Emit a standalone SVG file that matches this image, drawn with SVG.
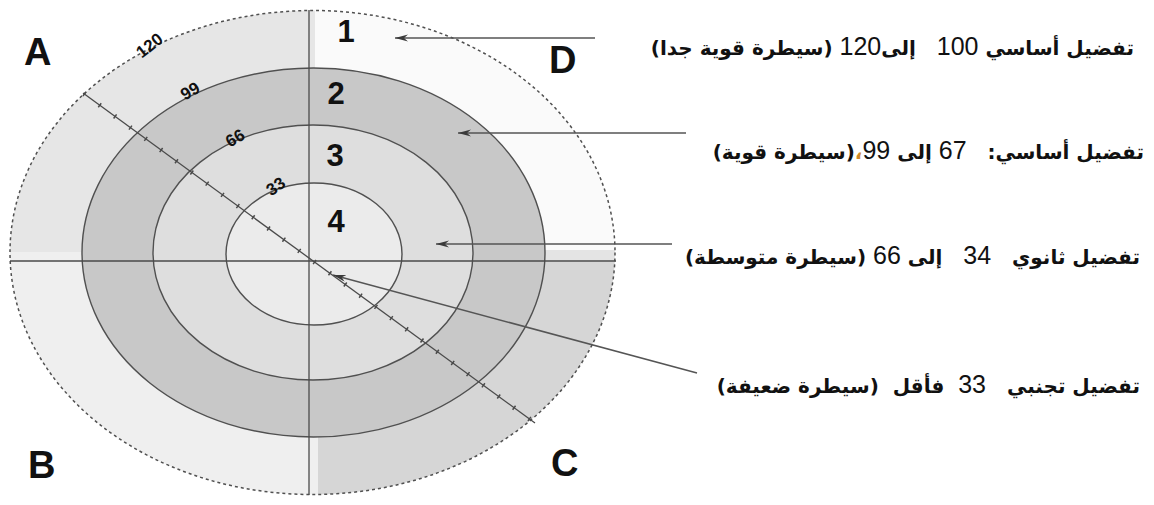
<svg xmlns="http://www.w3.org/2000/svg" width="1154" height="505" viewBox="0 0 1154 505">
  <defs>
    <clipPath id="outerClip">
      <ellipse cx="312.5" cy="252.5" rx="302.5" ry="242"/>
    </clipPath>
    <marker id="dart" markerUnits="userSpaceOnUse" markerWidth="14" markerHeight="8" refX="13" refY="3.5" orient="auto">
      <path d="M0,0 L13,3.5 L0,7 L4,3.5 z" fill="#3a3a3a"/>
    </marker>
  </defs>
  <style>
    .ring { stroke: #505050; stroke-width: 1.4; }
    .axis { stroke: #4a4a4a; stroke-width: 1.3; fill: none; }
    .arrow { stroke: #555555; stroke-width: 1.5; fill: none; marker-end: url(#dart); }
    .num { font-family: "Liberation Sans", Arial, sans-serif; font-weight: bold; font-size: 31px; fill: #111; text-anchor: middle; }
    .corner { font-family: "Liberation Sans", Arial, sans-serif; font-weight: bold; font-size: 38px; fill: #111; }
    .scale { font-family: "Liberation Sans", Arial, sans-serif; font-weight: bold; font-size: 17px; fill: #111; text-anchor: middle; }
    .legend { font-family: "DejaVu Sans", "Noto Sans", sans-serif; font-weight: bold; font-size: 20px; fill: #111; }
    .legend .n { font-family: "Liberation Sans", Arial, sans-serif; font-weight: normal; font-size: 25px; }
  </style>

  <rect width="1154" height="505" fill="#ffffff"/>

  <g id="quadrants" clip-path="url(#outerClip)">
    <rect x="0" y="0" width="315" height="252" fill="#e6e6e6"/>
    <rect x="315" y="0" width="310" height="250" fill="#fafafa"/>
    <rect x="0" y="252" width="318" height="253" fill="#efefef"/>
    <rect x="315" y="250" width="310" height="12" fill="#e4e4e4"/>
    <rect x="318" y="262" width="310" height="243" fill="#d6d6d6"/>
  </g>

  <g id="rings">
    <ellipse id="ring-99" class="ring" cx="313.5" cy="252.5" rx="231.5" ry="184.5" fill="#c8c8c8"/>
    <ellipse id="ring-66" class="ring" cx="313" cy="252.5" rx="160" ry="127.5" fill="#dedede"/>
    <ellipse id="ring-33" class="ring" cx="314" cy="254" rx="88" ry="71" fill="#ebebeb"/>
    <ellipse id="ring-120" cx="312.5" cy="252.5" rx="302.5" ry="242" fill="none" stroke="#505050" stroke-width="1.5" stroke-dasharray="3 3"/>
  </g>

  <g id="axes">
    <line class="axis" x1="309" y1="10" x2="309" y2="495"/>
    <line class="axis" x1="10" y1="261" x2="616" y2="261"/>
    <line class="axis" x1="83" y1="93" x2="535" y2="423"/>
    <line x1="83" y1="93" x2="535" y2="423" stroke="#4a4a4a" stroke-width="5" stroke-dasharray="1.5 17.5" stroke-dashoffset="-20"/>
  </g>

  <g id="scale-labels">
    <text class="scale" transform="translate(153,50) rotate(-38)">120</text>
    <text class="scale" transform="translate(193,96) rotate(-30)">99</text>
    <text class="scale" transform="translate(238,143) rotate(-30)">66</text>
    <text class="scale" transform="translate(279,191) rotate(-35)">33</text>
  </g>

  <g id="ring-numbers">
    <text class="num" x="346" y="42">1</text>
    <text class="num" x="336" y="104">2</text>
    <text class="num" x="335" y="166">3</text>
    <text class="num" x="336" y="232">4</text>
  </g>

  <g id="corners">
    <text id="corner-A" class="corner" x="24" y="65">A</text>
    <text id="corner-D" class="corner" x="549" y="73">D</text>
    <text id="corner-B" class="corner" x="28" y="478">B</text>
    <text id="corner-C" class="corner" x="551" y="476">C</text>
  </g>

  <g id="connectors">
    <line class="arrow" x1="595" y1="38" x2="395" y2="38"/>
    <line class="arrow" x1="686" y1="133" x2="458" y2="133"/>
    <line class="arrow" x1="672" y1="244" x2="436" y2="244"/>
    <line class="arrow" x1="697" y1="373" x2="333" y2="275"/>
  </g>

  <g id="legend-1">
    <text class="legend" xml:space="preserve" x="1134" y="55" direction="rtl" text-anchor="start">تفضيل أساسي <tspan class="n">100</tspan>   إلى<tspan class="n">120</tspan> (سيطرة قوية جدا)</text>
  </g>
  <g id="legend-2">
    <text class="legend" xml:space="preserve" x="1144" y="159" direction="rtl" text-anchor="start">تفضيل أساسي:   <tspan class="n">67</tspan> إلى <tspan class="n">99</tspan><tspan fill="#d08a2a">،</tspan>(سيطرة قوية)</text>
  </g>
  <g id="legend-3">
    <text class="legend" xml:space="preserve" x="1140" y="264" direction="rtl" text-anchor="start">تفضيل ثانوي   <tspan class="n">34</tspan>   إلى <tspan class="n">66</tspan> (سيطرة متوسطة)</text>
  </g>
  <g id="legend-4">
    <text class="legend" xml:space="preserve" x="1140" y="393" direction="rtl" text-anchor="start">تفضيل تجنبي   <tspan class="n">33</tspan>  فأقل  (سيطرة ضعيفة)</text>
  </g>
</svg>
